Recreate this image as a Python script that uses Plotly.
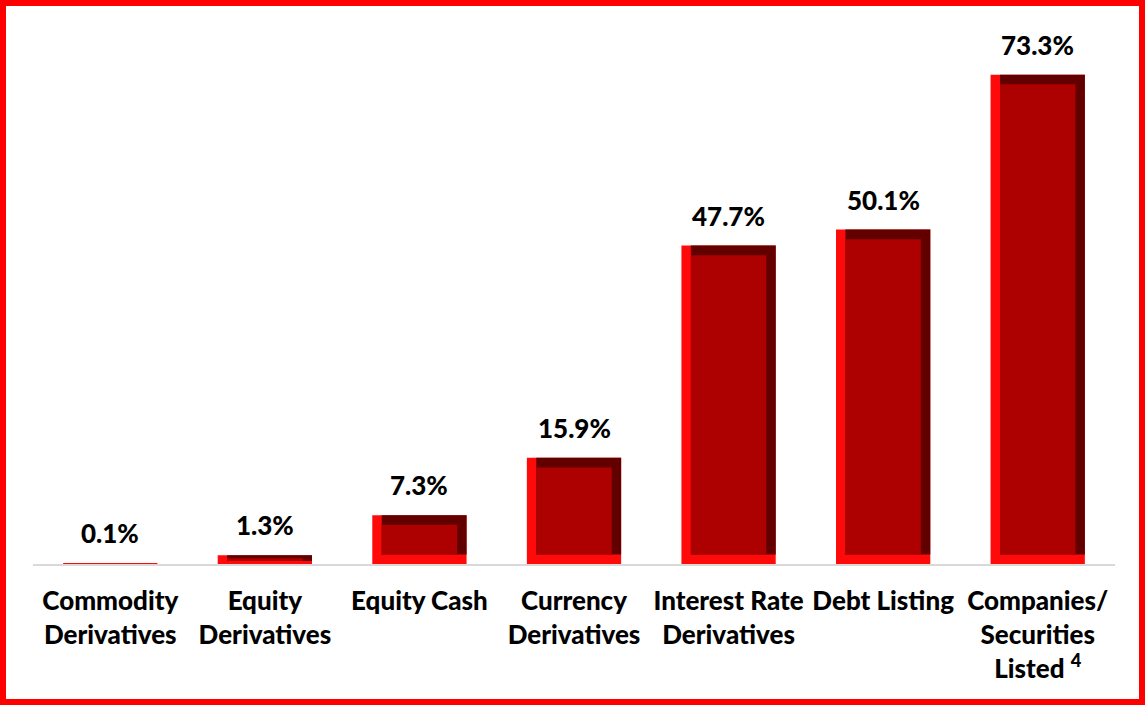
import plotly.graph_objects as go

categories = ["Commodity<br>Derivatives", "Equity<br>Derivatives", "Equity Cash",
              "Currency<br>Derivatives", "Interest Rate<br>Derivatives", "Debt Listing",
              "Companies/<br>Securities<br>Listed <sup>4</sup>"]
values = [0.1, 1.3, 7.3, 15.9, 47.7, 50.1, 73.3]
value_labels = ["0.1%", "1.3%", "7.3%", "15.9%", "47.7%", "50.1%", "73.3%"]

FONT = "Lato, 'Open Sans', sans-serif"
BAR_W = 0.61
BEV_X = 0.061
BEV_Y = 1.43

xs = list(range(len(values)))

fig = go.Figure()
# base: bright red (left + bottom bevel)
fig.add_trace(go.Bar(x=xs, y=values, width=BAR_W, marker=dict(color="#ff0a0a", line=dict(width=0)),
                     hoverinfo="skip", showlegend=False))
bev = [min(BEV_Y, v / 3) for v in values]
big = [i for i, v in enumerate(values) if v > 0.5]
# dark (top + right bevel)
fig.add_trace(go.Bar(x=[xs[i] for i in big], y=[values[i] - bev[i] for i in big],
                     base=[bev[i] for i in big], width=BAR_W - BEV_X, offset=-BAR_W / 2 + BEV_X,
                     marker=dict(color="#620000", line=dict(width=0)), hoverinfo="skip", showlegend=False))
# face
fig.add_trace(go.Bar(x=[xs[i] for i in big], y=[values[i] - 2 * bev[i] for i in big],
                     base=[bev[i] for i in big], width=BAR_W - 2 * BEV_X, offset=-BAR_W / 2 + BEV_X,
                     marker=dict(color="#ad0000", line=dict(width=0)), hoverinfo="skip", showlegend=False))

for x, v, t in zip(xs, values, value_labels):
    fig.add_annotation(x=x, y=v, text=t, showarrow=False, yanchor="bottom", yshift=12,
                       font=dict(family=FONT, size=26, color="black", weight=900))

L, R, T, B = 33, 30, 30, 141
W, H = 1145, 705
pw, ph = W - L - R, H - T - B
fig.add_shape(type="rect", xref="paper", yref="paper",
              x0=(3 - L) / pw, x1=(W - 3 - L) / pw,
              y0=-(H - 3 - T - ph) / ph, y1=(ph + T - 3) / ph,
              line=dict(color="#ff0000", width=6), layer="above")

fig.update_layout(
    width=W, height=H, barmode="overlay",
    margin=dict(l=L, r=R, t=T, b=B),
    paper_bgcolor="white", plot_bgcolor="white",
    xaxis=dict(tickmode="array", tickvals=xs, ticktext=categories, range=[-0.5, 6.5],
               showline=True, linecolor="#d9d9d9", linewidth=2, ticks="", showgrid=False,
               tickfont=dict(family=FONT, size=26, color="black", weight=900),
               ticklabelstandoff=13),
    yaxis=dict(range=[0, 80], visible=False, showgrid=False, zeroline=False),
)
fig.write_html("out.html", config={"displayModeBar": False},
               post_script="document.body.style.margin='0';document.body.style.overflow='hidden';")
